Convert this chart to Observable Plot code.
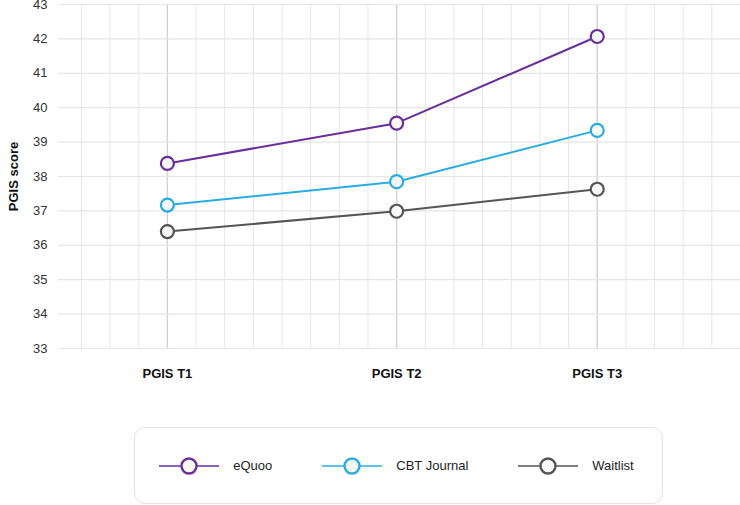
<!DOCTYPE html>
<html>
<head>
<meta charset="utf-8">
<script src="https://cdn.jsdelivr.net/npm/d3@7"></script>
<script src="https://cdn.jsdelivr.net/npm/@observablehq/plot@0.6"></script>
<style>
  html, body { margin: 0; padding: 0; background: #fff; }
  body { width: 740px; height: 505px; overflow: hidden; font-family: "Liberation Sans", Arial, sans-serif; }
  #legend {
    box-sizing: border-box;
    margin: 27px 0 0 134px;
    width: 529px; height: 77px;
    border: 1px solid #e3e3e3; border-radius: 11px;
    display: flex; align-items: center; justify-content: center; gap: 50px;
    font-size: 13px; color: #222;
    padding-left: 0; padding-right: 4px;
  }
  .item { display: flex; align-items: center; gap: 14px; }
</style>
</head>
<body>
<div id="chart"></div>
<div id="legend"></div>
<script>
const timeLabels = ["PGIS T1", "PGIS T2", "PGIS T3"];
const timeIndex = [0, 8, 15];
const groups = ["eQuoo", "CBT Journal", "Waitlist"];
const colors = ["#6a2d9c", "#2aabe2", "#555555"];
const eQuoo = [38.38, 39.55, 42.07];
const cbtJournal = [37.17, 37.85, 39.34];
const waitlist = [36.40, 36.99, 37.63];
const yTicks = [33, 34, 35, 36, 37, 38, 39, 40, 41, 42, 43];

const seriesValues = [eQuoo, cbtJournal, waitlist];
const data = [];
groups.forEach((g, gi) => {
  seriesValues[gi].forEach((v, ti) => {
    data.push({group: g, time: timeIndex[ti], label: timeLabels[ti], value: v});
  });
});

const minorX = d3.range(-3, 21);
const labelOf = new Map(timeIndex.map((t, i) => [t, timeLabels[i]]));

const chart = Plot.plot({
  width: 740,
  height: 400,
  marginLeft: 58,
  marginRight: 0,
  marginTop: 4,
  marginBottom: 52,
  style: {fontFamily: "'Liberation Sans', Arial, sans-serif", fontSize: "13px", color: "#333", background: "#fff"},
  x: {type: "linear", domain: [-3.8, 20]},
  y: {domain: [33, 43]},
  color: {domain: groups, range: colors},
  marks: [
    Plot.gridX(minorX, {stroke: "#e6e6e6", strokeOpacity: 1, strokeWidth: 1}),
    Plot.gridX(timeIndex, {stroke: "#d2d2d2", strokeOpacity: 1, strokeWidth: 1.3}),
    Plot.gridY(yTicks, {stroke: "#e6e6e6", strokeOpacity: 1, strokeWidth: 1.2}),
    Plot.axisY(yTicks, {tickSize: 0, tickPadding: 11, fontSize: 13, fill: "#333",
      label: "PGIS score", labelAnchor: "center", labelArrow: "none", labelOffset: 50}),
    Plot.axisX(timeIndex, {tickSize: 0, tickPadding: 20, fontSize: 13, fontWeight: "bold", fill: "#111",
      tickFormat: t => labelOf.get(t), label: null}),
    Plot.line(data, {x: "time", y: "value", z: "group", stroke: "group", strokeWidth: 2}),
    Plot.dot(data, {x: "time", y: "value", stroke: "group", fill: "#f7f7f7", r: 6.5, strokeWidth: 2.2})
  ]
});
// bold y-axis label
chart.querySelectorAll("[aria-label='y-axis label'] text").forEach(t => {
  t.setAttribute("font-weight", "bold"); t.setAttribute("fill", "#111");
});
document.getElementById("chart").appendChild(chart);

const legend = document.getElementById("legend");
groups.forEach((g, i) => {
  const item = document.createElement("div");
  item.className = "item";
  item.innerHTML = `<svg width="60" height="20" viewBox="0 0 60 20">
      <line x1="0" y1="10" x2="60" y2="10" stroke="${colors[i]}" stroke-opacity="0.75" stroke-width="2"/>
      <circle cx="30" cy="10" r="7.5" fill="#f7f7f7" stroke="${colors[i]}" stroke-width="2.4"/>
    </svg><span>${g}</span>`;
  legend.appendChild(item);
});
</script>
</body>
</html>
